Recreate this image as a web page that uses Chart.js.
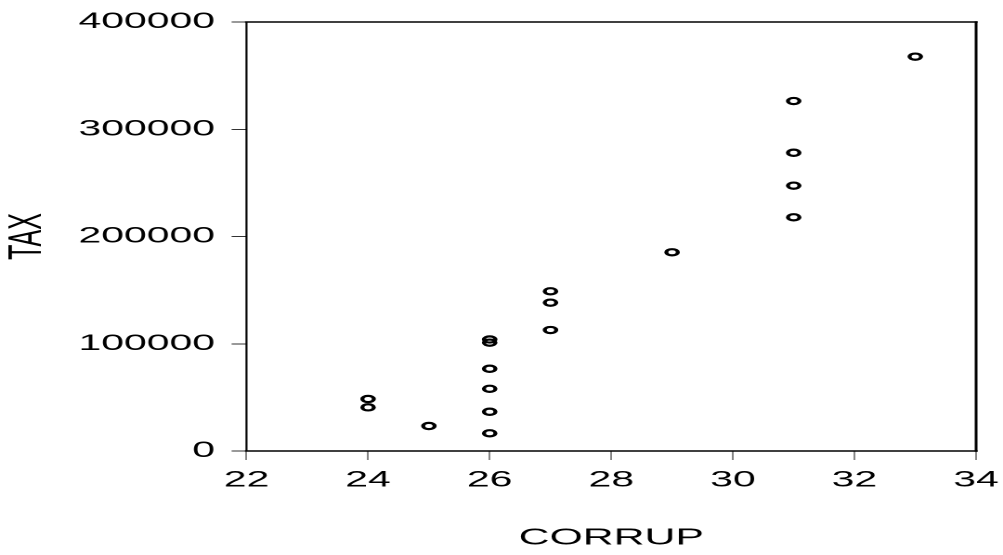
<!DOCTYPE html>
<html>
<head>
<meta charset="utf-8">
<script src="https://cdn.jsdelivr.net/npm/chart.js@4.4.0/dist/chart.umd.min.js"></script>
<style>
  html, body { margin: 0; padding: 0; background: #fff; overflow: hidden; }
  #wrap { width: 540px; height: 555px; transform: scaleX(1.857407); transform-origin: 0 0; }
</style>
</head>
<body>
<div id="wrap"><canvas id="c" width="540" height="555"></canvas></div>
<script>
const corrup = [24, 24, 25, 26, 26, 26, 26, 26, 26, 27, 27, 27, 29, 31, 31, 31, 31, 33];
const tax = [48500, 40700, 23300, 104000, 101000, 76700, 58000, 36600, 16500, 148900, 138300, 112800, 185300, 326300, 278100, 247400, 217900, 367700];
const xTicks = [22, 24, 26, 28, 30, 32, 34];
const yTicks = [0, 100000, 200000, 300000, 400000];
const xTitle = 'CORRUP';
const yTitle = 'TAX';

const points = corrup.map((x, i) => ({ x: x, y: tax[i] }));

const framePlugin = {
  id: 'frame',
  afterDatasetsDraw(chart) {
    const { ctx, chartArea: a } = chart;
    ctx.save();
    ctx.strokeStyle = '#000';
    ctx.lineCap = 'square';
    ctx.lineWidth = 1.6;
    ctx.beginPath();
    ctx.moveTo(a.left, a.top); ctx.lineTo(a.right, a.top);
    ctx.moveTo(a.left, a.bottom); ctx.lineTo(a.right, a.bottom);
    ctx.stroke();
    ctx.lineWidth = 1.1;
    ctx.beginPath();
    ctx.moveTo(a.left, a.top); ctx.lineTo(a.left, a.bottom);
    ctx.stroke();
    ctx.lineWidth = 1.5;
    ctx.beginPath();
    ctx.moveTo(a.right, a.top); ctx.lineTo(a.right, a.bottom);
    ctx.stroke();
    ctx.restore();
  }
};

const FONT = "'Liberation Sans', Arial, Helvetica, sans-serif";

new Chart(document.getElementById('c'), {
  type: 'scatter',
  data: {
    datasets: [{
      data: points,
      pointStyle: 'circle',
      pointRadius: 3.1,
      pointHoverRadius: 3.1,
      pointBorderWidth: 2.2,
      borderColor: '#000',
      backgroundColor: 'rgba(0,0,0,0)'
    }]
  },
  options: {
    responsive: false,
    animation: false,
    devicePixelRatio: 2,
    layout: { padding: { left: 0, top: 22, right: 14.5, bottom: 0 } },
    plugins: { legend: { display: false }, tooltip: { enabled: false } },
    scales: {
      x: {
        type: 'linear',
        min: 22, max: 34,
        afterBuildTicks(s) { s.ticks = xTicks.map(v => ({ value: v })); },
        afterFit(s) { s.height = 104; s.paddingLeft = 0; s.paddingRight = 0; },
        grid: { display: true, drawOnChartArea: false, drawTicks: true, tickLength: 9, tickWidth: 0.6, tickColor: '#333' },
        border: { display: false },
        ticks: { color: '#000', padding: 7, maxRotation: 0, autoSkip: false, font: { family: FONT, size: 22 } },
        title: { display: true, text: xTitle, color: '#000', font: { family: FONT, size: 23 }, padding: { top: 0, bottom: 3 } }
      },
      y: {
        type: 'linear',
        min: 0, max: 400000,
        afterBuildTicks(s) { s.ticks = yTicks.map(v => ({ value: v })); },
        afterFit(s) { s.width = 132.7; s.paddingTop = 0; s.paddingBottom = 0; },
        grid: { display: true, drawOnChartArea: false, drawTicks: true, tickLength: 8, tickWidth: 1, tickColor: '#333' },
        border: { display: false },
        ticks: { color: '#000', padding: 9, autoSkip: false, font: { family: FONT, size: 22 }, callback: v => String(v) },
        title: { display: true, text: yTitle, color: '#000', font: { family: FONT, size: 25 }, padding: { top: 0, bottom: 0 } }
      }
    }
  },
  plugins: [framePlugin]
});
</script>
</body>
</html>
